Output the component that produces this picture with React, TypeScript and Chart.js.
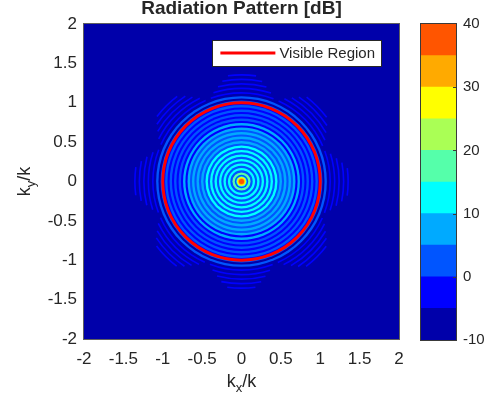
import React, { useEffect, useRef } from "react";
import { Chart, registerables } from "chart.js";

Chart.register(...registerables);

const TITLE = "Radiation Pattern [dB]";
const LEGEND_LABEL = "Visible Region";
const AXIS_TICKS = [-2, -1.5, -1, -0.5, 0, 0.5, 1, 1.5, 2];

// contour levels (dB) and the colour of each filled band between them
const LEVEL_EDGES = [-10, -5, 0, 5, 10, 15, 20, 25, 30, 35, 40];
const LEVEL_COLORS = [
  "#0000AA",
  "#0000FF",
  "#0055FF",
  "#00AAFF",
  "#00FFFF",
  "#55FFAA",
  "#AAFF55",
  "#FFFF00",
  "#FFAA00",
  "#FF5500",
];
const COLORBAR_TICKS = [-10, 0, 10, 20, 30, 40];

// radial cut of the pattern: each band reaches out to bandEdge (in k units)
// and sits at level bandDb (dB); main lobe first, then sidelobe rings and nulls
const bandEdge = [
  0.032, 0.042, 0.051, 0.058, 0.066,
  0.085, 0.115, 0.142, 0.172, 0.199, 0.229, 0.256, 0.286, 0.313, 0.343,
  0.37, 0.4, 0.427, 0.457, 0.484, 0.514, 0.541, 0.571, 0.598, 0.628,
  0.655, 0.685, 0.712, 0.742, 0.769, 0.799, 0.826, 0.856, 0.883, 0.913,
  0.94, 0.97, 0.997, 1.027, 1.054, 1.084, 1.111,
];
const bandDb = [
  37, 32, 27, 22, 14,
  4, 17, 4, 13, 3, 13, 3, 13, 3, 13,
  3, 13, 3, 12, 3, 8, 3, 8, 3, 8,
  3, 8, -2, 7, -2, 3, -2, 3, -2, 3,
  -2, 3, -2, 3, -8, 2, -8,
];

// faint sidelobe rings beyond the visible region (k units, dB)
const outerRingRadius = [1.126, 1.183, 1.24, 1.297, 1.354];
const outerRingDb = [-3, -3, -3, -3, -3];
// share of each outer ring that is lit (the rest breaks up between the lobes)
const outerRingCoverage = [0.92, 0.8, 0.64, 0.5, 0.34];

const VISIBLE_RADIUS = 1;

const FONT = "'Liberation Sans', Arial, Helvetica, sans-serif";
const TEXT = "#262626";

function levelColor(db: number): string {
  for (let i = LEVEL_EDGES.length - 2; i >= 0; i--) {
    if (db >= LEVEL_EDGES[i]) return LEVEL_COLORS[i];
  }
  return LEVEL_COLORS[0];
}

function pxRadius(chart: any, r: number): number {
  const s = chart.scales.x;
  return Math.abs(s.getPixelForValue(r) - s.getPixelForValue(0));
}

function drawSubscripted(
  ctx: CanvasRenderingContext2D,
  base: string,
  sub: string,
  tail: string,
  size: number,
  subSize: number,
  drop: number
) {
  ctx.font = `${size}px ${FONT}`;
  const wb = ctx.measureText(base).width;
  const wt = ctx.measureText(tail).width;
  ctx.font = `${subSize}px ${FONT}`;
  const ws = ctx.measureText(sub).width;
  const total = wb + ws + wt;
  let x = -total / 2;
  ctx.textAlign = "left";
  ctx.textBaseline = "alphabetic";
  ctx.font = `${size}px ${FONT}`;
  ctx.fillText(base, x, 0);
  x += wb;
  ctx.font = `${subSize}px ${FONT}`;
  ctx.fillText(sub, x, drop);
  x += ws;
  ctx.font = `${size}px ${FONT}`;
  ctx.fillText(tail, x, 0);
}

const plotDecor = {
  id: "plotDecor",
  beforeDatasetsDraw(chart: any) {
    const { ctx, chartArea: a } = chart;
    ctx.save();
    ctx.fillStyle = LEVEL_COLORS[0];
    ctx.fillRect(a.left, a.top, a.right - a.left, a.bottom - a.top);
    ctx.restore();
  },
  beforeDatasetDraw(chart: any, args: any) {
    const ds = chart.data.datasets[args.index];
    if (ds.ringRadius === undefined) return;
    // break the ring into eight lit arcs centred on the axes and diagonals
    const ctx = chart.ctx;
    const period = (2 * Math.PI * pxRadius(chart, ds.ringRadius)) / 8;
    const on = period * ds.coverage;
    ctx.save();
    ctx.setLineDash([on, period - on]);
    ctx.lineDashOffset = on / 2;
  },
  afterDatasetDraw(chart: any, args: any) {
    const ds = chart.data.datasets[args.index];
    if (ds.ringRadius === undefined) return;
    chart.ctx.restore();
  },
  afterDatasetsDraw(chart: any) {
    const { ctx, chartArea: a } = chart;
    ctx.save();
    ctx.strokeStyle = "#5f5f5f";
    ctx.lineWidth = 1;
    ctx.strokeRect(a.left - 0.5, a.top - 0.5, a.right - a.left + 1, a.bottom - a.top + 1);

    // legend box, inset in the top-right corner of the axes
    const ds = chart.data.datasets[0];
    ctx.font = `15px ${FONT}`;
    const tw = ctx.measureText(ds.label).width;
    const lineLen = 55;
    const boxW = 8 + lineLen + 4 + tw + 6;
    const boxH = 26;
    const right = a.right - 18;
    const top = a.top + 16;
    const left = right - boxW;
    ctx.fillStyle = "#FFFFFF";
    ctx.fillRect(left, top, boxW, boxH);
    ctx.strokeStyle = "#262626";
    ctx.lineWidth = 1;
    ctx.strokeRect(Math.round(left) + 0.5, top + 0.5, Math.round(boxW), boxH);
    ctx.strokeStyle = ds.pointBorderColor;
    ctx.lineWidth = 3;
    ctx.beginPath();
    ctx.moveTo(left + 8, top + 13);
    ctx.lineTo(left + 8 + lineLen, top + 13);
    ctx.stroke();
    ctx.fillStyle = TEXT;
    ctx.textBaseline = "alphabetic";
    ctx.textAlign = "left";
    ctx.fillText(ds.label, left + 8 + lineLen + 4, top + 18);
    ctx.restore();
  },
  afterDraw(chart: any) {
    const { ctx, chartArea: a } = chart;
    const cx = (a.left + a.right) / 2;
    const cy = (a.top + a.bottom) / 2;
    ctx.save();
    ctx.fillStyle = TEXT;
    ctx.font = `bold 19px ${FONT}`;
    ctx.textAlign = "center";
    ctx.textBaseline = "alphabetic";
    ctx.fillText(TITLE, cx, 14);

    ctx.save();
    ctx.translate(cx, a.bottom + 48);
    drawSubscripted(ctx, "k", "x", "/k", 18, 13, 5);
    ctx.restore();

    ctx.save();
    ctx.translate(a.left - 54, cy);
    ctx.rotate(-Math.PI / 2);
    drawSubscripted(ctx, "k", "y", "/k", 18, 13, 5);
    ctx.restore();
    ctx.restore();
  },
};

const colorbarDecor = {
  id: "colorbarDecor",
  afterDatasetsDraw(chart: any) {
    const { ctx, chartArea: a } = chart;
    const s = chart.scales.y;
    ctx.save();
    ctx.strokeStyle = "#3a3a3a";
    ctx.lineWidth = 1;
    for (const v of COLORBAR_TICKS) {
      if (v === COLORBAR_TICKS[0] || v === COLORBAR_TICKS[COLORBAR_TICKS.length - 1]) continue;
      const y = Math.round(s.getPixelForValue(v)) + 0.5;
      ctx.beginPath();
      ctx.moveTo(a.right - 3, y);
      ctx.lineTo(a.right, y);
      ctx.stroke();
    }
    ctx.strokeRect(a.left - 0.5, a.top - 0.5, a.right - a.left + 1, a.bottom - a.top + 1);
    ctx.restore();
  },
};

export default function App() {
  const mainRef = useRef<HTMLCanvasElement>(null);
  const barRef = useRef<HTMLCanvasElement>(null);

  useEffect(() => {
    // bands are painted as nested filled discs, outermost first
    const order = bandEdge.map((_, i) => i).reverse();
    const bandPoints = order.map((i) => ({ x: 0, y: 0, edge: bandEdge[i], db: bandDb[i] }));

    const outerRings = outerRingRadius.map((r, i) => ({
      label: `ring ${i + 1}`,
      order: 1,
      ringRadius: r,
      coverage: outerRingCoverage[i],
      data: [{ x: 0, y: 0 }],
      pointRadius: (c: any) => pxRadius(c.chart, r),
      pointHoverRadius: (c: any) => pxRadius(c.chart, r),
      pointBackgroundColor: "rgba(0,0,0,0)",
      pointBorderColor: levelColor(outerRingDb[i]),
      pointBorderWidth: 1.6,
      pointHoverBorderWidth: 1.6,
    }));

    const tickFont = { family: FONT, size: 17 };

    const main = new Chart(mainRef.current!, {
      type: "scatter",
      data: {
        datasets: [
          {
            label: LEGEND_LABEL,
            order: 0,
            data: [{ x: 0, y: 0 }],
            pointRadius: (c: any) => pxRadius(c.chart, VISIBLE_RADIUS),
            pointHoverRadius: (c: any) => pxRadius(c.chart, VISIBLE_RADIUS),
            pointBackgroundColor: "rgba(0,0,0,0)",
            pointBorderColor: "#FF0000",
            pointBorderWidth: 3,
            pointHoverBorderWidth: 3,
          } as any,
          ...(outerRings as any[]),
          {
            label: "pattern",
            order: 2,
            data: bandPoints as any,
            pointRadius: (c: any) => pxRadius(c.chart, c.raw.edge),
            pointHoverRadius: (c: any) => pxRadius(c.chart, c.raw.edge),
            pointBackgroundColor: (c: any) => levelColor(c.raw.db),
            pointBorderWidth: 0,
            pointHoverBorderWidth: 0,
          } as any,
        ],
      },
      options: {
        animation: false,
        responsive: false,
        events: [],
        layout: { padding: { left: 0, right: 101, top: 24, bottom: 0 } },
        plugins: { legend: { display: false }, tooltip: { enabled: false }, title: { display: false } },
        scales: {
          x: {
            type: "linear",
            min: -2,
            max: 2,
            afterBuildTicks: (s: any) => {
              s.ticks = AXIS_TICKS.map((value) => ({ value }));
            },
            afterFit: (s: any) => {
              s.height = 66;
            },
            ticks: {
              callback: (v: any) => String(v),
              font: tickFont,
              color: TEXT,
              padding: 10,
              maxRotation: 0,
              autoSkip: false,
            },
            grid: { display: false, drawTicks: false },
            border: { display: false },
          },
          y: {
            type: "linear",
            min: -2,
            max: 2,
            afterBuildTicks: (s: any) => {
              s.ticks = AXIS_TICKS.map((value) => ({ value }));
            },
            afterFit: (s: any) => {
              s.width = 84;
            },
            ticks: {
              callback: (v: any) => String(v),
              font: tickFont,
              color: TEXT,
              padding: 7,
              autoSkip: false,
            },
            grid: { display: false, drawTicks: false },
            border: { display: false },
          },
        },
      } as any,
      plugins: [plotDecor],
    });

    const bar = new Chart(barRef.current!, {
      type: "bar",
      data: {
        labels: [""],
        datasets: LEVEL_COLORS.map((color, i) => ({
          label: `${LEVEL_EDGES[i]}`,
          data: [[LEVEL_EDGES[i], LEVEL_EDGES[i + 1]]] as any,
          backgroundColor: color,
          borderWidth: 0,
          barPercentage: 1,
          categoryPercentage: 1,
          grouped: false,
        })) as any,
      },
      options: {
        animation: false,
        responsive: false,
        events: [],
        layout: { padding: { left: 21, right: 0, top: 24, bottom: 65 } },
        plugins: { legend: { display: false }, tooltip: { enabled: false } },
        scales: {
          x: { display: false },
          y: {
            position: "right",
            min: -10,
            max: 40,
            afterBuildTicks: (s: any) => {
              s.ticks = COLORBAR_TICKS.map((value) => ({ value }));
            },
            afterFit: (s: any) => {
              s.width = 44;
            },
            ticks: {
              callback: (v: any) => String(v),
              font: { family: FONT, size: 15 },
              color: TEXT,
              padding: 7,
              autoSkip: false,
            },
            grid: { display: false, drawTicks: false },
            border: { display: false },
          },
        },
      } as any,
      plugins: [colorbarDecor],
    });

    return () => {
      main.destroy();
      bar.destroy();
    };
  }, []);

  return (
    <div style={{ position: "fixed", left: 0, top: 0, width: 500, height: 405, background: "#FFFFFF" }}>
      <canvas
        ref={mainRef}
        width={500}
        height={405}
        style={{ position: "absolute", left: 0, top: 0, width: 500, height: 405 }}
      />
      <canvas
        ref={barRef}
        width={100}
        height={405}
        style={{ position: "absolute", left: 400, top: 0, width: 100, height: 405 }}
      />
    </div>
  );
}
